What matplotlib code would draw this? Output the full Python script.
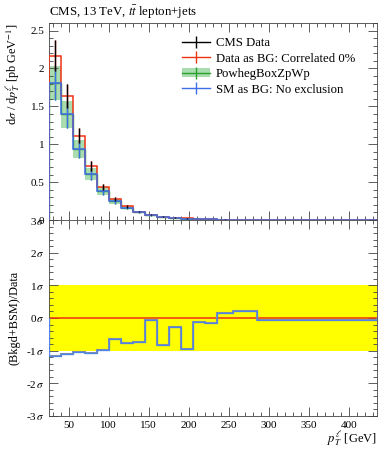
import numpy as np
import matplotlib
matplotlib.use("Agg")
import matplotlib.pyplot as plt
from matplotlib.lines import Line2D
from matplotlib.patches import Patch
from matplotlib.ticker import MultipleLocator, FixedLocator, FuncFormatter

plt.rcParams['font.family'] = ['Liberation Serif', 'DejaVu Serif']
plt.rcParams['mathtext.fontset'] = 'stix'

# ---- data ----
bin_edges = [26, 40, 55, 70, 85, 100, 115, 130, 145, 160, 175, 190, 205, 220, 235, 255, 285, 435]
cms_data = [2.17, 1.64, 1.11, 0.71, 0.44, 0.275, 0.18, 0.112, 0.07, 0.044, 0.03, 0.02, 0.013, 0.010, 0.006, 0.004, 0.0015]
cms_err = [0.20, 0.16, 0.10, 0.065, 0.04, 0.025, 0.016, 0.010, 0.007, 0.004, 0.003, 0.002, 0.0013, 0.001, 0.0006, 0.0004, 0.0002]
data_bg_corr0 = [2.17, 1.64, 1.11, 0.71, 0.44, 0.275, 0.18, 0.112, 0.07, 0.044, 0.03, 0.02, 0.013, 0.010, 0.006, 0.004, 0.0015]
powheg_zpwp = [1.81, 1.395, 0.94, 0.605, 0.385, 0.25, 0.16, 0.10, 0.062, 0.04, 0.025, 0.016, 0.012, 0.009, 0.006, 0.004, 0.0015]
powheg_unc_frac = [0.125, 0.125, 0.125, 0.13, 0.13, 0.13, 0.13, 0.13, 0.13, 0.13, 0.13, 0.13, 0.13, 0.13, 0.13, 0.13, 0.13]
sm_as_bg = [1.81, 1.395, 0.94, 0.605, 0.385, 0.25, 0.16, 0.10, 0.062, 0.04, 0.025, 0.016, 0.012, 0.009, 0.006, 0.004, 0.0015]
ratio_sigma = [-1.15, -1.10, -1.05, -1.06, -0.97, -0.64, -0.76, -0.73, -0.06, -0.82, -0.27, -0.94, -0.12, -0.15, 0.15, 0.22, -0.06]
ratio_ref = [0.0] * 17
sigma_ticks = [-3, -2, -1, 0, 1, 2, 3]
x_ticks = [50, 100, 150, 200, 250, 300, 350, 400]

RED = '#ee3311'
BLUE = '#3f6fe8'
GREEN = '#2ca02c'
BAND = '#a9dcae'

edges = np.array(bin_edges)
centers = 0.5 * (edges[:-1] + edges[1:])
pw = np.array(powheg_zpwp)
pw_err = pw * np.array(powheg_unc_frac)

fig = plt.figure(figsize=(3.89, 4.5), dpi=100)
W, H = 389, 450
def rect(x0, y0, x1, y1):
    return [x0 / W, 1 - y1 / H, (x1 - x0) / W, (y1 - y0) / H]

ax = fig.add_axes(rect(49.3, 23, 376.7, 220))
axr = fig.add_axes(rect(49.3, 220, 376.7, 416))

# ---- top panel ----
ax.fill_between(edges, np.r_[pw - pw_err, (pw - pw_err)[-1]], np.r_[pw + pw_err, (pw + pw_err)[-1]],
                step='post', color=BAND, lw=0, zorder=1)
ax.stairs(pw, edges, color=GREEN, lw=1.0, zorder=2)
ax.errorbar(centers, pw, yerr=pw_err, fmt='none', ecolor=GREEN, elinewidth=1.0, zorder=2)
ax.stairs(data_bg_corr0, edges, color=RED, lw=1.1, zorder=3)
ax.errorbar(centers, data_bg_corr0, yerr=cms_err, fmt='none', ecolor=RED, elinewidth=1.0, zorder=3)
ax.stairs(sm_as_bg, edges, color=BLUE, lw=1.1, zorder=4)
ax.errorbar(centers, sm_as_bg, yerr=pw_err, fmt='none', ecolor=BLUE, elinewidth=1.0, zorder=4)
ax.errorbar(centers, cms_data, yerr=cms_err, fmt='none', ecolor='black', elinewidth=1.0, zorder=5)

ax.set_xlim(edges[0], edges[-1])
ax.set_ylim(0, 2.6)
ax.yaxis.set_major_locator(FixedLocator([0, 0.5, 1, 1.5, 2, 2.5]))
ax.yaxis.set_minor_locator(MultipleLocator(0.1))
ax.yaxis.set_major_formatter(FuncFormatter(lambda v, p: ('%g' % v)))
ax.xaxis.set_major_locator(FixedLocator(x_ticks))
ax.xaxis.set_minor_locator(MultipleLocator(10))
ax.tick_params(labelbottom=False)
ax.set_ylabel(r'd$\sigma$ / d$p_T^\ell$ [pb GeV$^{-1}$]', fontsize=8.8, loc='top', labelpad=6)
ax.set_title(r'CMS, 13 TeV, $t\bar{t}$ lepton+jets', fontsize=9.3, loc='left', pad=5)

handles = [
    Line2D([], [], color='black', lw=1.0, marker='|', markersize=9, markeredgewidth=1.0),
    Line2D([], [], color=RED, lw=1.0, marker='|', markersize=9, markeredgewidth=1.0),
    (Patch(facecolor=BAND, edgecolor='none'),
     Line2D([], [], color=GREEN, lw=1.0, marker='|', markersize=9, markeredgewidth=1.0)),
    Line2D([], [], color=BLUE, lw=1.0, marker='|', markersize=9, markeredgewidth=1.0),
]
labels = ['CMS Data', 'Data as BG: Correlated 0%', 'PowhegBoxZpWp', 'SM as BG: No exclusion']
ax.legend(handles, labels, loc='upper left', bbox_to_anchor=(0.39, 0.955), frameon=False,
          fontsize=9.2, handlelength=2.2, handletextpad=0.45, labelspacing=0.28, borderaxespad=0)

# ---- ratio panel ----
axr.axhspan(-1, 1, color='#ffff00', lw=0, zorder=0)
axr.stairs(ratio_ref, edges, color=RED, lw=1.1, zorder=2)
axr.stairs(ratio_sigma, edges, color='#8090a8', lw=1.5, zorder=3)
axr.stairs(ratio_sigma, edges, color='#4f84e6', lw=0.9, zorder=4)
axr.set_xlim(edges[0], edges[-1])
axr.set_ylim(-3, 3)
axr.yaxis.set_major_locator(FixedLocator(sigma_ticks))
axr.yaxis.set_minor_locator(MultipleLocator(0.2))
axr.yaxis.set_major_formatter(FuncFormatter(lambda v, p: r'%d$\,\sigma$' % v))
axr.xaxis.set_major_locator(FixedLocator(x_ticks))
axr.xaxis.set_minor_locator(MultipleLocator(10))
axr.set_ylabel('(Bkgd+BSM)/Data', fontsize=8.8, labelpad=4)
axr.set_xlabel(r'$p_T^\ell$ [GeV]', fontsize=9.0, loc='right', labelpad=0)

for a in (ax, axr):
    a.tick_params(which='both', direction='in', top=True, right=True, labelsize=8, width=0.6, colors='#444444',
                  labelcolor='black')
    a.tick_params(which='major', length=6.5)
    a.tick_params(which='minor', length=3)
    for s in a.spines.values():
        s.set_linewidth(0.6)
        s.set_color('#444444')

fig.savefig('out.png', dpi=100)
